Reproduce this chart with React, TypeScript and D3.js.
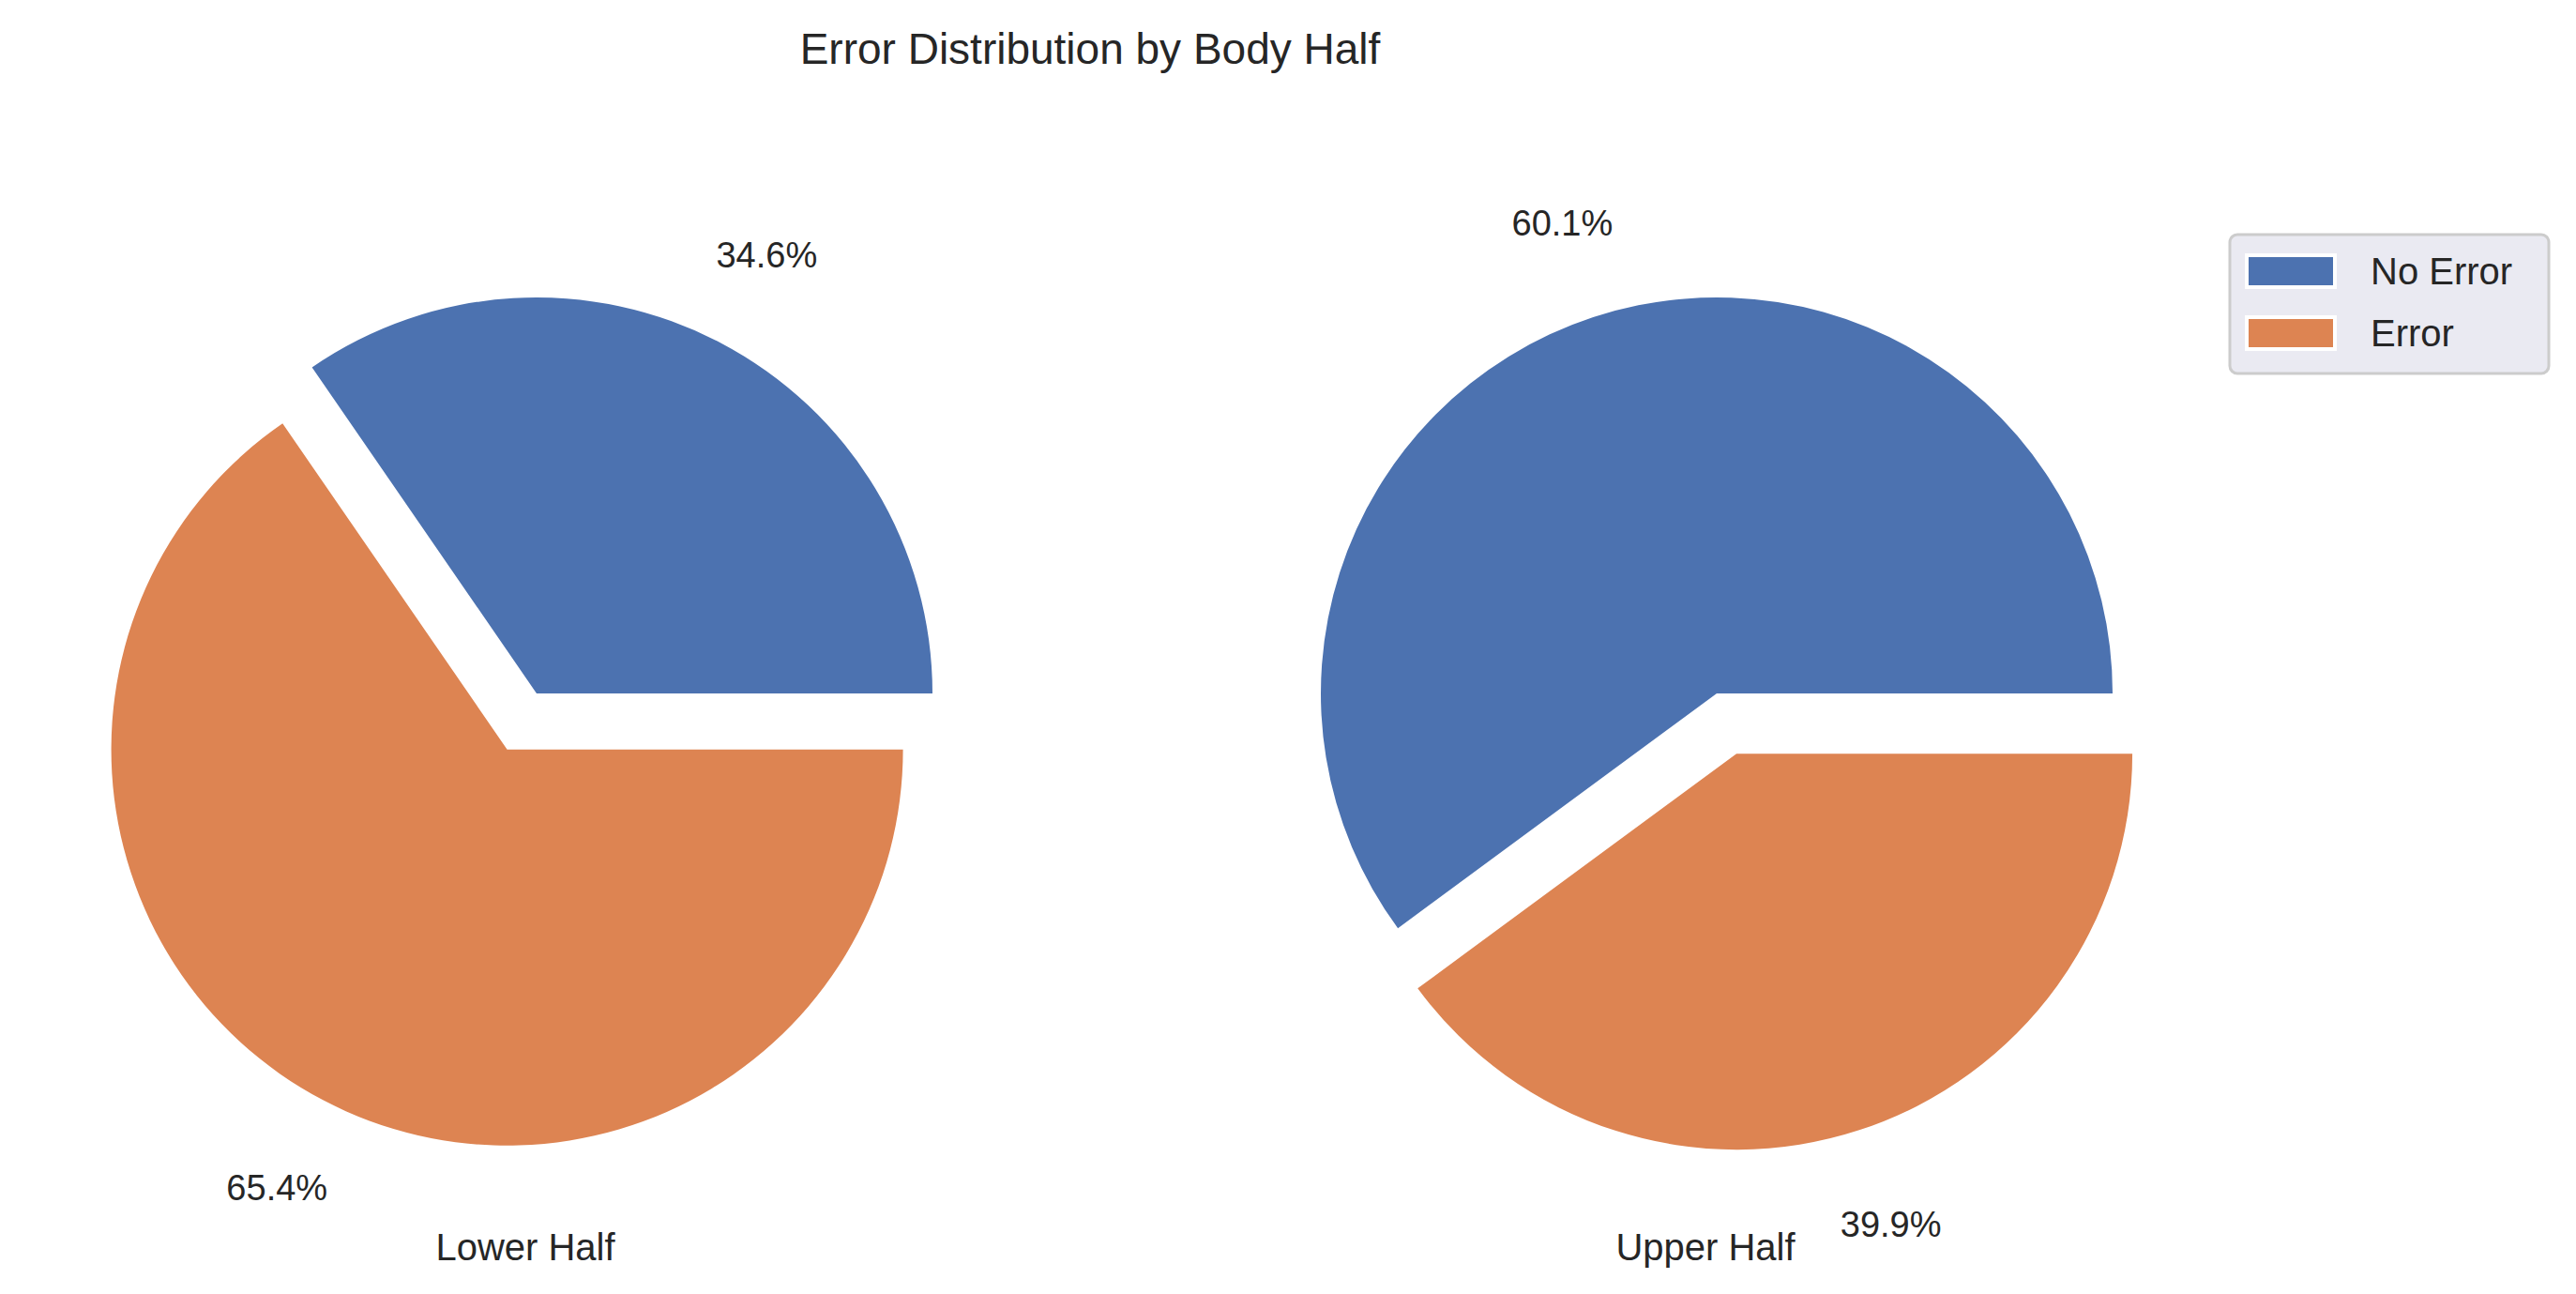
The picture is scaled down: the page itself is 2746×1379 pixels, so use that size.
import { useEffect, useRef } from 'react';
import * as d3 from 'd3';

const categories = ['No Error', 'Error'];
const colors = ['#4c72b0', '#dd8452'];
const panels = ['Lower Half', 'Upper Half'];
const lowerValues = [34.6, 65.4];
const upperValues = [60.1, 39.9];
const explode = [0, 0.16];

export default function App() {
  const svgRef = useRef<SVGSVGElement>(null);

  useEffect(() => {
    document.body.style.margin = '0';
    if (!svgRef.current) return;
    const svg = d3.select(svgRef.current);
    svg.selectAll('*').remove();
    const font = 'Liberation Sans, Arial, sans-serif';
    const width = 2746;
    const height = 1379;
    const r = 422;
    const cy = 739;
    const centers = d3.scalePoint<string>().domain(panels).range([572, 1830]);

    svg.attr('width', width).attr('height', height).style('background', '#fff');

    svg.append('text')
      .attr('x', 1162).attr('y', 68)
      .attr('text-anchor', 'middle')
      .attr('font-family', font).attr('font-size', 46).attr('fill', '#262626')
      .text('Error Distribution by Body Half');

    // matplotlib-like: start at 3 o'clock, counter-clockwise
    const pie = d3.pie<number>().sort(null)
      .startAngle(Math.PI / 2).endAngle(Math.PI / 2 - 2 * Math.PI);
    const arc = d3.arc<d3.PieArcDatum<number>>().innerRadius(0).outerRadius(r);

    [lowerValues, upperValues].forEach((vals, pi) => {
      const cx = centers(panels[pi])!;
      const g = svg.append('g').attr('transform', `translate(${cx},${cy})`);
      pie(vals).forEach((d, i) => {
        const mid = (d.startAngle + d.endAngle) / 2;
        const ox = Math.sin(mid) * explode[i] * r;
        const oy = -Math.cos(mid) * explode[i] * r;
        const sg = g.append('g').attr('transform', `translate(${ox},${oy})`);
        sg.append('path').attr('d', arc(d)!).attr('fill', colors[i]);
        sg.append('text')
          .attr('x', Math.sin(mid) * r * 1.25)
          .attr('y', -Math.cos(mid) * r * 1.25)
          .attr('dy', '0.35em')
          .attr('text-anchor', 'middle')
          .attr('font-family', font).attr('font-size', 38).attr('fill', '#262626')
          .text(`${d.data.toFixed(1)}%`);
      });
      svg.append('text')
        .attr('x', cx - 12 + pi * 0).attr('y', 1343)
        .attr('text-anchor', 'middle')
        .attr('font-family', font).attr('font-size', 40).attr('fill', '#262626')
        .text(panels[pi]);
    });

    const lg = svg.append('g').attr('transform', 'translate(2377,250)');
    lg.append('rect').attr('width', 340).attr('height', 148).attr('rx', 8)
      .attr('fill', '#eaeaf2').attr('stroke', '#cccccc').attr('stroke-width', 3);
    categories.forEach((c, i) => {
      lg.append('rect').attr('x', 18).attr('y', 22 + i * 66).attr('width', 94).attr('height', 34)
        .attr('fill', colors[i]).attr('stroke', '#fff').attr('stroke-width', 4);
      lg.append('text').attr('x', 150).attr('y', 39 + i * 66).attr('dy', '0.35em')
        .attr('font-family', font).attr('font-size', 40).attr('fill', '#262626').text(c);
    });
  }, []);

  return <svg ref={svgRef} style={{ display: 'block' }} />;
}
